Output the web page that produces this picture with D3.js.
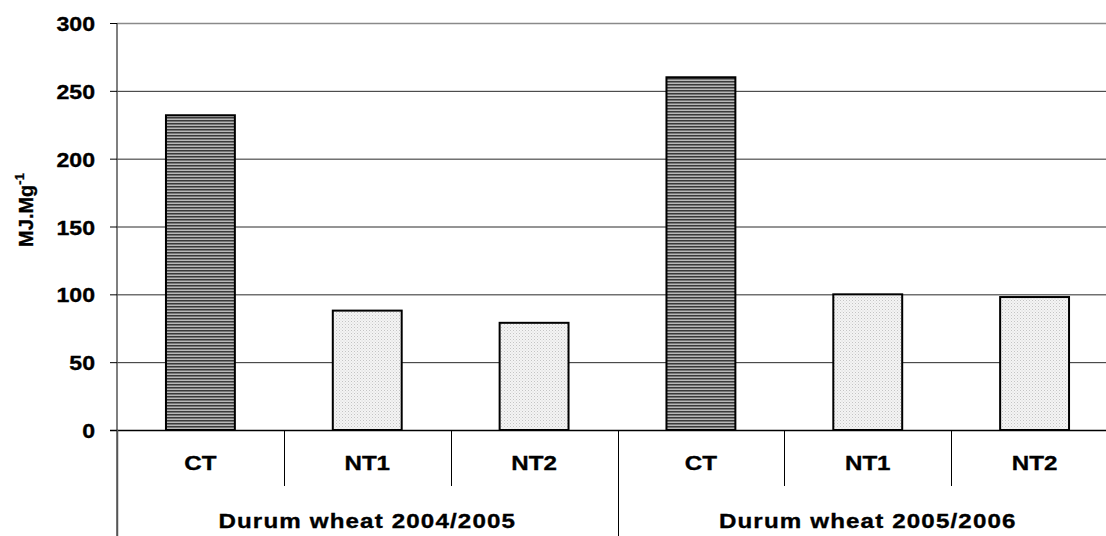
<!DOCTYPE html>
<html>
<head>
<meta charset="utf-8">
<script src="https://cdn.jsdelivr.net/npm/d3@7"></script>
<style>
  body { margin: 0; background: #fff; }
  svg { display: block; font-family: Arial, "Liberation Sans", sans-serif; font-weight: bold; }
  svg text { stroke: #000; stroke-width: 0.35px; }
</style>
</head>
<body>
<svg id="chart" width="1106" height="536"></svg>
<script>
// values
const groups = ['Durum wheat 2004/2005', 'Durum wheat 2005/2006'];
const treatments = ['CT', 'NT1', 'NT2'];
const energy2004 = [232, 88, 79];
const energy2005 = [260, 100, 98];
const yTicks = [0, 50, 100, 150, 200, 250, 300];
const yTitle = 'MJ.Mg';
const yTitleSup = '-1';

const rows = [];
groups.forEach((g, gi) => {
  const vals = gi === 0 ? energy2004 : energy2005;
  treatments.forEach((t, ti) => rows.push({ group: g, gi: gi, cat: t, value: vals[ti] }));
});

const W = 1106, H = 536;
const margin = { top: 23, left: 117, bottom: 106 };
const plotRight = 1118; // plot runs past the right edge, as in the picture

const svg = d3.select('#chart');

const x = d3.scaleBand()
  .domain(d3.range(rows.length))
  .range([margin.left, plotRight])
  .paddingInner(0.587)
  .paddingOuter(0.2935);

const y = d3.scaleLinear()
  .domain([0, 300])
  .range([H - margin.bottom, margin.top]);

// patterns
const defs = svg.append('defs');
const stripes = defs.append('pattern')
  .attr('id', 'stripes').attr('patternUnits', 'userSpaceOnUse')
  .attr('width', 4).attr('height', 3);
stripes.append('rect').attr('width', 4).attr('height', 3).attr('fill', '#b8b8b8');
stripes.append('rect').attr('width', 4).attr('height', 1).attr('fill', '#3a3a3a');
stripes.append('rect').attr('y', 1).attr('width', 4).attr('height', 1).attr('fill', '#777');

const dots = defs.append('pattern')
  .attr('id', 'dots').attr('patternUnits', 'userSpaceOnUse')
  .attr('width', 3).attr('height', 3);
dots.append('rect').attr('width', 3).attr('height', 3).attr('fill', '#f4f4f4');
dots.append('rect').attr('width', 1).attr('height', 1).attr('fill', '#c4c4c4');
dots.append('rect').attr('x', 1.5).attr('y', 1.5).attr('width', 1).attr('height', 1).attr('fill', '#d4d4d4');

// gridlines
svg.append('g')
  .selectAll('line')
  .data(yTicks.filter(d => d > 0))
  .join('line')
    .attr('x1', margin.left).attr('x2', W)
    .attr('y1', d => y(d) + 0.5).attr('y2', d => y(d) + 0.5)
    .attr('stroke', d => d === 300 ? '#8a8a8a' : '#2a2a2a')
    .attr('stroke-width', d => d === 300 ? 1.5 : 1);

// bars
svg.append('g')
  .selectAll('rect')
  .data(rows)
  .join('rect')
    .attr('x', (d, i) => x(i))
    .attr('y', d => y(d.value))
    .attr('width', x.bandwidth())
    .attr('height', d => y(0) - y(d.value))
    .attr('fill', d => d.cat === 'CT' ? 'url(#stripes)' : 'url(#dots)')
    .attr('stroke', '#000')
    .attr('stroke-width', 2);

// y axis
const yAxis = svg.append('g')
  .attr('transform', `translate(${margin.left},0)`)
  .call(d3.axisLeft(y).tickValues(yTicks).tickSize(7).tickPadding(13).tickSizeOuter(0));
yAxis.select('.domain').attr('stroke', '#555').attr('stroke-width', 1.5)
  .attr('d', `M0,${y(300)}V${H}`);
yAxis.selectAll('.tick line').attr('stroke', '#000');
yAxis.selectAll('.tick text')
  .attr('fill', '#000')
  .attr('font-size', null)
  .style('font-size', '21px')
  .style('font-weight', 'bold')
  .style('font-family', 'Arial, "Liberation Sans", sans-serif')
  .attr('transform', 'scale(1.1,1)')
  .attr('x', -22 / 1.1)
  .attr('dy', '0.36em');

// x baseline
svg.append('line')
  .attr('x1', margin.left - 7).attr('x2', W)
  .attr('y1', y(0) + 0.5).attr('y2', y(0) + 0.5)
  .attr('stroke', '#000').attr('stroke-width', 1.5);

// category separators (short) and group separators (long)
const step = x.step();
const edges = d3.range(rows.length + 1).map(i => x(0) - x.paddingOuter() * step + i * step);
svg.append('g')
  .selectAll('line')
  .data(edges)
  .join('line')
    .attr('x1', d => Math.round(d) + 0.5).attr('x2', d => Math.round(d) + 0.5)
    .attr('y1', y(0))
    .attr('y2', (d, i) => i % treatments.length === 0 ? H : 486)
    .attr('stroke', (d, i) => i === 0 ? '#555' : '#000')
    .attr('stroke-width', (d, i) => i === 0 ? 1.5 : 1);

// category labels
svg.append('g')
  .selectAll('text')
  .data(rows)
  .join('text')
    .attr('transform', (d, i) => `translate(${x(i) + x.bandwidth() / 2},470) scale(1.15,1)`)
    .attr('text-anchor', 'middle')
    .style('font-size', '21px')
    .text(d => d.cat);

// group labels
svg.append('g')
  .selectAll('text')
  .data(groups)
  .join('text')
    .attr('transform', (d, gi) => {
      const cx = (edges[gi * 3] + edges[gi * 3 + 3]) / 2;
      return `translate(${cx},528) scale(1.15,1)`;
    })
    .attr('text-anchor', 'middle')
    .style('font-size', '21px')
    .style('letter-spacing', '1px')
    .text(d => d);

// y title
const yt = svg.append('text')
  .attr('transform', 'translate(33,210) rotate(-90)')
  .attr('text-anchor', 'middle')
  .style('font-size', '20px');
yt.append('tspan').text(yTitle);
yt.append('tspan').attr('dy', -9).style('font-size', '13px').text(yTitleSup);
</script>
</body>
</html>
